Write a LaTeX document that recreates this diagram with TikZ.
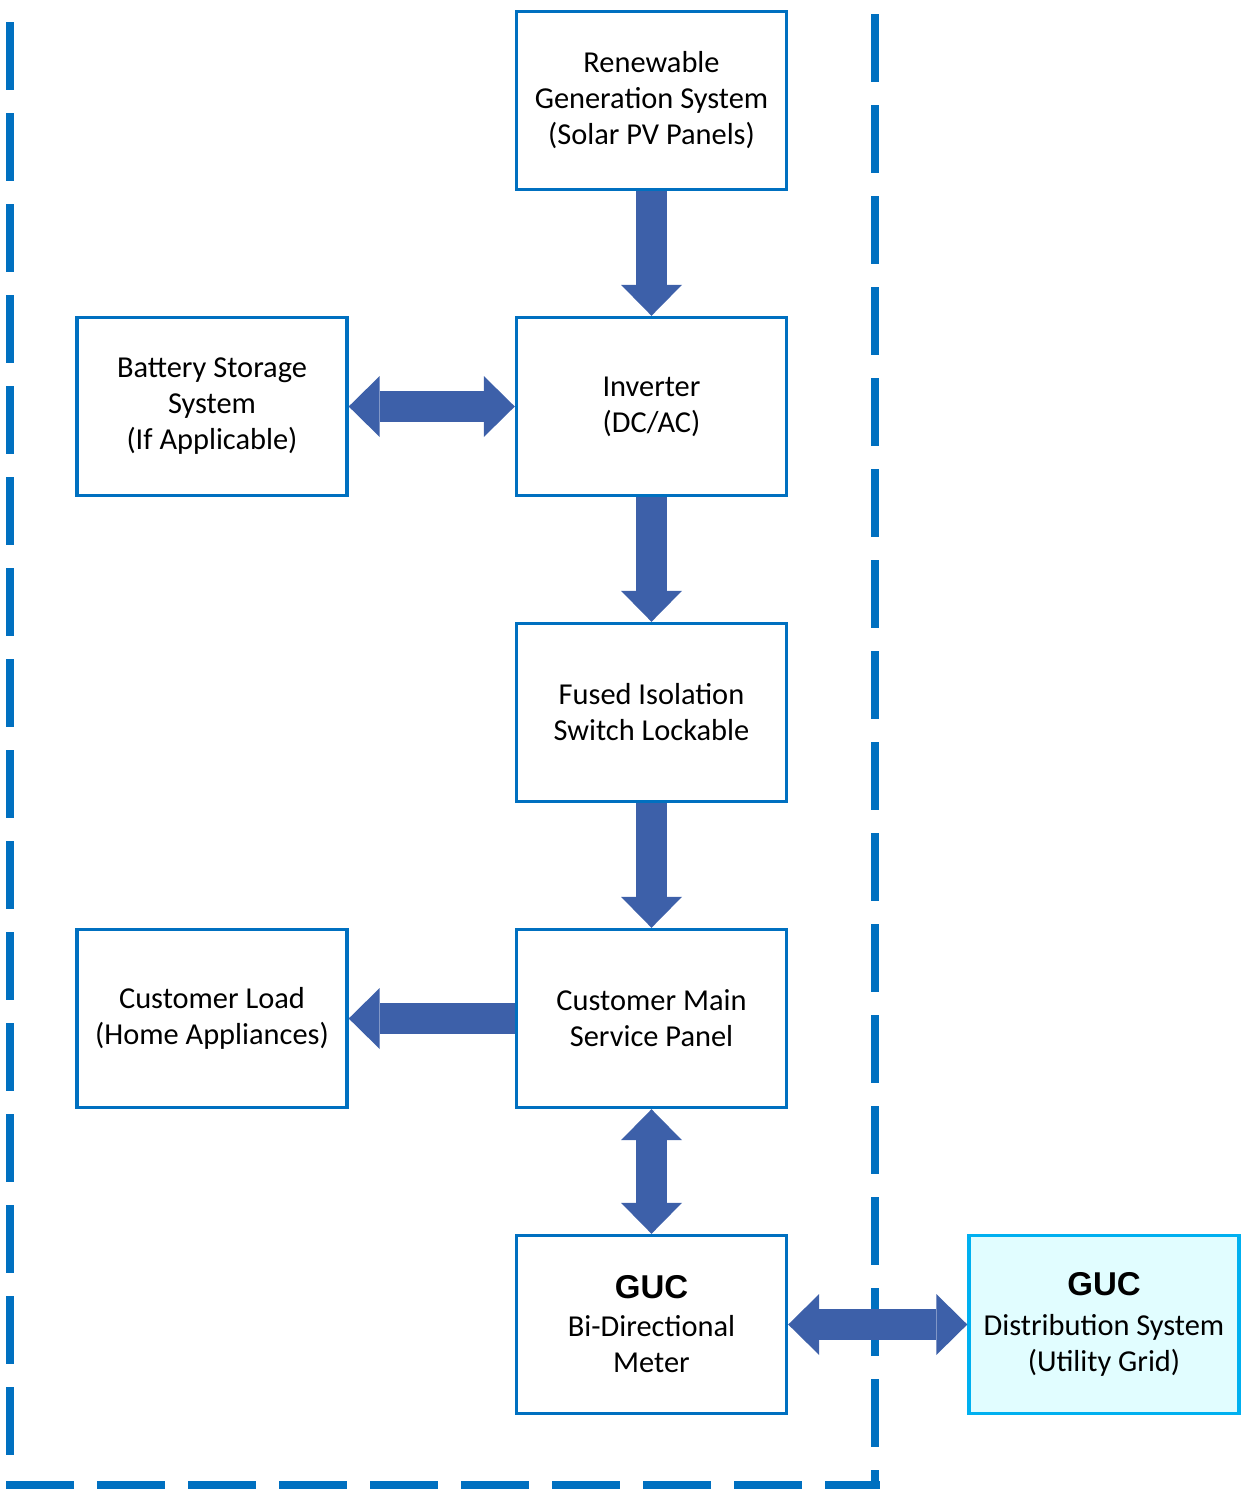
\documentclass[tikz,border=0pt]{standalone}
\usepackage{fontspec}
\setmainfont{Carlito}
\newfontfamily\gucfont{Liberation Sans}
\usetikzlibrary{arrows.meta}
\definecolor{frameblue}{RGB}{0,112,192}
\definecolor{arrowblue}{RGB}{61,96,169}
\definecolor{gridcyan}{RGB}{0,176,240}
\definecolor{gridfill}{RGB}{225,253,255}
\newcommand{\guc}{{\gucfont\bfseries\fontsize{16.5}{20}\selectfont GUC}}
\begin{document}
\begin{tikzpicture}[x=0.5pt,y=-0.5pt,
  block/.style={draw=frameblue,line width=1.7pt,minimum width=135pt,minimum height=89pt,
    inner sep=0pt,align=center,font=\fontsize{15.2}{18}\selectfont},
  gridblock/.style={block,draw=gridcyan,fill=gridfill},
  tip/.tip={Triangle[width=30.5pt,length=15.5pt,line width=0pt]},
  flow/.style={arrowblue,line width=15.5pt,-tip},
  biflow/.style={flow,tip-tip},
  border/.style={frameblue,line width=4pt,dash pattern=on 34pt off 11.5pt}]
\useasboundingbox (0,0) rectangle (1241,1490);
\draw[border] (10,22) -- (10,1470);
\draw[border] (6,1485) -- (880,1485);
\draw[border] (875,14) -- (875,1489);
\node[block] (pv) at (651.5,100.5) {Renewable\\Generation System\\(Solar PV Panels)};
\node[block] (inverter) at (651.5,406.5) {Inverter\\(DC/AC)};
\node[block] (battery) at (212,406.5) {Battery Storage\\System\\(If Applicable)};
\node[block] (isolator) at (651.5,712.5) {Fused Isolation\\Switch Lockable};
\node[block] (panel) at (651.5,1018.5) {Customer Main\\Service Panel};
\node[block] (load) at (212,1018.5) {Customer Load\\(Home Appliances)};
\node[block] (meter) at (651.5,1324.5) {\guc\\[1pt]Bi-Directional\\Meter};
\node[gridblock] (grid) at (1104,1324.5) {\guc\\[2pt]Distribution System\\(Utility Grid)};
\draw[flow] (pv) -- (inverter);
\draw[biflow] (battery) -- (inverter);
\draw[flow] (inverter) -- (isolator);
\draw[flow] (isolator) -- (panel);
\draw[flow] (panel) -- (load);
\draw[biflow] (panel) -- (meter);
\draw[biflow] (meter) -- (grid);
\end{tikzpicture}
\end{document}
